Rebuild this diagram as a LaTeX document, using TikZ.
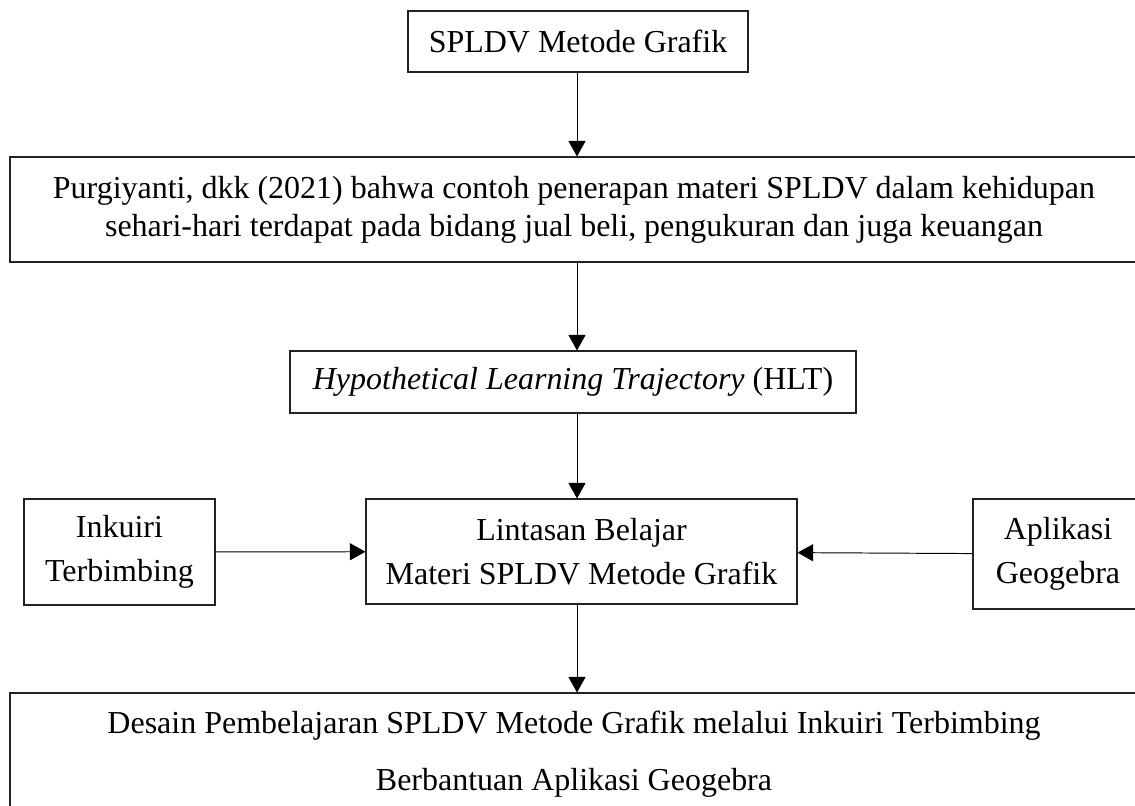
\documentclass[tikz,border=0pt]{standalone}
\usepackage{fontspec}
\setmainfont{Liberation Serif}
\usepackage{tikz}
\usetikzlibrary{arrows.meta, positioning, calc}
\usepackage{xcolor}
\definecolor{edge}{HTML}{222222}
\newcommand{\boxfont}{\fontsize{18.2pt}{21.6pt}\selectfont}
\newcommand{\rowfont}{\fontsize{18.2pt}{24.8pt}\selectfont}
\tikzset{
  block/.style={rectangle, draw=edge, line width=0.6pt, fill=white,
                align=center, inner sep=0pt, font=\boxfont},
  blockRow/.style={block, font=\rowfont},
  blockWide/.style={block, minimum width=22.56cm},
  arrow/.style={-{Triangle[length=0.31cm, width=0.34cm]}, line width=0.55pt, draw=black},
}

\begin{document}
\begin{tikzpicture}
  \clip (0,0) rectangle (22.7,-16.1);

  %% Top of the chain
  \node[block, minimum width=6.8cm, minimum height=1.22cm] (metode) at (11.56,-0.83)
    {SPLDV Metode Grafik};
  \node[blockWide, minimum height=2.1cm] (purgiyanti) at (11.48,-4.19)
    {Purgiyanti, dkk (2021) bahwa contoh penerapan materi SPLDV dalam kehidupan\\
     sehari-hari terdapat pada bidang jual beli, pengukuran dan juga keuangan};
  \node[block, minimum width=11.32cm, minimum height=1.24cm] (hlt) at (11.46,-7.64)
    {\textit{Hypothetical Learning Trajectory} (HLT)};

  %% Middle row
  \node[blockRow, minimum width=8.62cm, minimum height=2.1cm] (lintasan) at (11.63,-11.03)
    {Lintasan Belajar\\ Materi SPLDV Metode Grafik};
  \node[blockRow, minimum width=3.82cm, minimum height=2.12cm] (inkuiri) at (2.39,-11.04)
    {Inkuiri\\ Terbimbing};
  \node[blockRow, minimum width=3.4cm, minimum height=2.2cm] (aplikasi) at (21.16,-11.08)
    {Aplikasi\\ Geogebra};

  %% Result
  \node[blockWide, minimum height=2.46cm,
        font=\fontsize{18.2pt}{32.4pt}\selectfont] (desain) at (11.48,-15.09)
    {Desain Pembelajaran SPLDV Metode Grafik melalui Inkuiri Terbimbing\\
     Berbantuan Aplikasi Geogebra};

  %% Arrows
  \coordinate (spine) at (11.54,0);
  \draw[arrow] (spine |- metode.south) -- (spine |- purgiyanti.north);
  \draw[arrow] (spine |- purgiyanti.south) -- (spine |- hlt.north);
  \draw[arrow] (spine |- hlt.south) -- (spine |- lintasan.north);
  \draw[arrow] (inkuiri) -- (lintasan);
  \draw[arrow] (aplikasi) -- (lintasan);
  \draw[arrow] (spine |- lintasan.south) -- (spine |- desain.north);
\end{tikzpicture}
\end{document}
